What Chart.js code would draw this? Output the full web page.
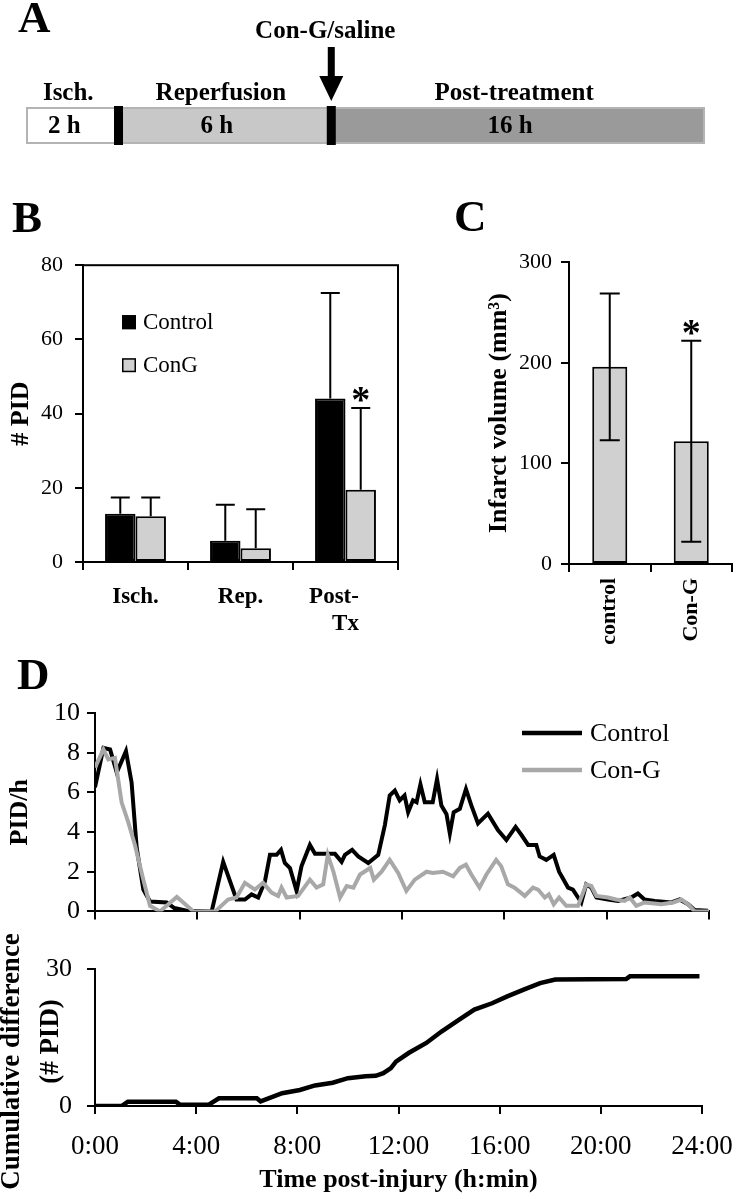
<!DOCTYPE html>
<html>
<head>
<meta charset="utf-8">
<script src="https://cdn.jsdelivr.net/npm/chart.js@4.4.1/dist/chart.umd.min.js"></script>
<style>
html, body { margin: 0; padding: 0; background: #fff; }
#page { position: relative; width: 739px; height: 1199px; overflow: hidden; background: #fff; }
canvas { position: absolute; }
.plab { position: absolute; font-family: 'Liberation Serif', 'Times New Roman', serif; font-weight: bold; font-size: 45px; line-height: 1; color: #000; }
</style>
</head>
<body>
<div id="page">
  <canvas id="cA" width="739" height="160" style="left:0px;top:0px"></canvas>
  <canvas id="cB" width="420" height="400" style="left:0px;top:240px"></canvas>
  <canvas id="cC" width="269" height="410" style="left:470px;top:240px"></canvas>
  <canvas id="cD1" width="739" height="294" style="left:0px;top:640px"></canvas>
  <canvas id="cD2" width="800" height="274" style="left:-8px;top:925px"></canvas>
  <div class="plab" style="left:18px;top:-5px">A</div>
  <div class="plab" style="left:12px;top:195px">B</div>
  <div class="plab" style="left:454px;top:194px">C</div>
  <div class="plab" style="left:17px;top:652px">D</div>
</div>
<script>
// ================= DATA =================
// Panel A: experimental timeline (segment widths as drawn in the schematic, not to scale)
const phaseNames = ['Isch.', 'Reperfusion', 'Post-treatment'];
const phaseDurations = ['2 h', '6 h', '16 h'];
const phaseDrawnWidths = [1, 2.3, 4.04];
const treatmentLabel = 'Con-G/saline';

// Panel B: number of PIDs per phase (mean, upper SD)
const pidCategories = ['Isch.', 'Rep.', ['Post-    ', 'Tx']];
const pidControl = [13.0, 5.7, 44.1];
const pidControlSD = [4.4, 9.7, 28.4];
const pidConG = [12.3, 3.7, 19.5];
const pidConGSD = [5.1, 10.5, 22.0];
const pidConGSignificant = [false, false, true];

// Panel C: infarct volume (mm3), mean +/- SD
const infarctCategories = ['control', 'Con-G'];
const infarctVolume = [196, 122];
const infarctSD = [73, 100];
const infarctSignificant = [false, true];

// Panel D (top): PID rate (PID/h) vs time post-injury (h)
const controlTimes = [0, 0.33, 0.59, 0.85, 1.21, 1.43, 1.63, 1.89, 2.15, 2.8, 3.1, 3.58, 4.56, 5.01, 5.53, 5.86, 6.12, 6.38, 6.64, 6.84, 7.1, 7.27, 7.42, 7.62, 7.88, 8.07, 8.4, 8.6, 9.11, 9.38, 9.64, 9.77, 10.05, 10.29, 10.68, 11.07, 11.33, 11.52, 11.72, 11.91, 12.1, 12.24, 12.43, 12.57, 12.72, 12.89, 13.2, 13.37, 13.54, 13.74, 13.87, 14.02, 14.26, 14.5, 14.71, 14.97, 15.36, 15.75, 16.08, 16.44, 16.67, 16.93, 17.25, 17.38, 17.64, 17.93, 18.14, 18.49, 18.68, 19.01, 19.2, 19.4, 19.6, 20.05, 20.44, 20.96, 21.22, 21.48, 21.88, 22.53, 22.85, 23.18, 23.44, 23.96];
const controlRate = [6.25, 8.24, 8.16, 7.0, 8.08, 6.5, 3.2, 1.1, 0.5, 0.45, 0.17, 0.03, 0, 2.5, 0.6, 0.6, 0.86, 0.7, 1.5, 2.85, 2.85, 3.1, 2.44, 2.19, 1.03, 2.27, 3.35, 2.9, 2.9, 2.9, 2.5, 2.85, 3.1, 2.77, 2.44, 2.85, 4.35, 5.84, 6.09, 5.6, 5.84, 5.0, 5.6, 5.5, 6.4, 5.5, 5.5, 6.67, 5.34, 4.9, 3.93, 5.0, 5.17, 6.17, 5.34, 4.43, 4.93, 4.1, 3.6, 4.26, 3.85, 3.35, 3.35, 2.77, 2.6, 2.85, 2.0, 1.2, 1.1, 0.45, 1.36, 1.2, 0.7, 0.6, 0.53, 0.7, 0.9, 0.6, 0.53, 0.45, 0.6, 0.36, 0.07, 0.03];
const congTimes = [0, 0.33, 0.52, 0.78, 1.04, 1.3, 1.56, 1.89, 2.15, 2.54, 3.2, 3.85, 4.7, 5.2, 5.53, 5.86, 6.25, 6.57, 6.9, 7.16, 7.29, 7.49, 7.94, 8.4, 8.66, 8.92, 9.1, 9.32, 9.58, 9.84, 10.1, 10.36, 10.76, 10.9, 11.2, 11.52, 11.85, 12.17, 12.5, 12.96, 13.2, 13.6, 14.0, 14.26, 14.5, 14.71, 15.03, 15.3, 15.68, 15.88, 16.14, 16.4, 16.8, 17.12, 17.32, 17.58, 17.74, 17.93, 18.14, 18.42, 18.88, 19.2, 19.4, 19.6, 20.05, 20.37, 20.7, 20.9, 21.16, 21.48, 22.14, 22.6, 22.92, 23.18, 23.44, 24.0];
const congRate = [7.25, 8.16, 7.66, 7.74, 5.5, 4.5, 3.35, 1.6, 0.28, 0, 0.73, 0, 0, 0.6, 0.7, 1.44, 1.1, 1.44, 0.95, 0.78, 1.2, 0.7, 0.78, 1.6, 1.2, 1.36, 2.85, 2.0, 0.7, 1.28, 1.2, 1.86, 2.19, 1.6, 2.0, 2.6, 1.94, 1.03, 1.6, 2.0, 1.94, 2.0, 1.77, 2.19, 2.35, 1.86, 1.2, 1.86, 2.6, 2.27, 1.36, 1.2, 0.78, 1.2, 1.1, 0.7, 0.86, 0.36, 0.7, 0.28, 0.28, 1.36, 1.28, 0.78, 0.7, 0.6, 0.53, 0.7, 0.28, 0.45, 0.36, 0.45, 0.6, 0.36, 0, 0];

// Panel D (bottom): cumulative difference (# PID) vs time (h)
const cumTimes = [0, 1.05, 1.3, 3.2, 3.35, 4.5, 4.9, 6.4, 6.55, 7.4, 8.1, 8.7, 9.4, 10.0, 10.7, 11.1, 11.4, 11.7, 11.9, 12.4, 13.1, 13.7, 14.4, 15.0, 15.7, 16.3, 17.0, 17.6, 18.2, 21.0, 21.15, 23.9];
const cumDiff = [0, 0, 0.95, 0.95, 0.3, 0.3, 1.7, 1.7, 1.0, 2.8, 3.5, 4.5, 5.1, 6.1, 6.5, 6.6, 7.2, 8.3, 9.7, 11.6, 13.8, 16.3, 18.9, 21.1, 22.5, 24.0, 25.6, 26.9, 27.7, 27.8, 28.4, 28.4];

const timeTickLabels = ['0:00', '4:00', '8:00', '12:00', '16:00', '20:00', '24:00'];
const cumTitleLines = ['Cumulative difference', '(# PID)'];

// ================= SETUP =================
const FONT = "'Liberation Serif', 'Times New Roman', serif";
Chart.defaults.font.family = FONT;
Chart.defaults.color = '#000';
Chart.defaults.animation = false;
Chart.defaults.events = [];

const axisGrid = () => ({ display: true, drawOnChartArea: false, drawTicks: true, tickLength: 8, color: '#000', lineWidth: 2 });
const axisBorder = () => ({ display: true, color: '#000', width: 2 });

function fitTo(chart, t) {
  for (let k = 0; k < 4; k++) {
    const a = chart.chartArea;
    const p = Object.assign({}, chart.config.options.layout.padding);
    p.left += t.left - a.left;
    p.top += t.top - a.top;
    p.right += a.right - t.right;
    p.bottom += a.bottom - t.bottom;
    chart.config.options.layout.padding = p;
    chart.update('none');
  }
}

// ---- plugins ----
const timelinePlugin = {
  id: 'timeline',
  afterDatasetsDraw(chart) {
    const { ctx, chartArea: a } = chart;
    const xs = chart.scales.x;
    const edges = [0];
    phaseDrawnWidths.forEach(w => edges.push(edges[edges.length - 1] + w));
    const px = edges.map(v => xs.getPixelForValue(v));
    ctx.save();
    ctx.strokeStyle = '#b4b4b4';
    ctx.lineWidth = 2;
    ctx.strokeRect(a.left + 1, a.top + 1, a.right - a.left - 2, a.bottom - a.top - 2);
    ctx.fillStyle = '#000';
    for (let i = 1; i < px.length - 1; i++) ctx.fillRect(px[i] - 4.5, a.top - 1, 9, a.bottom - a.top + 2);
    ctx.font = 'bold 25px ' + FONT;
    ctx.textAlign = 'center';
    ctx.textBaseline = 'middle';
    for (let i = 0; i < phaseNames.length; i++) {
      const cx = (px[i] + px[i + 1]) / 2;
      ctx.fillText(phaseNames[i], cx - 4, a.top - 13);
      ctx.fillText(phaseDurations[i], cx - 8, (a.top + a.bottom) / 2 + 1);
    }
    const bx = px[2];
    ctx.fillRect(bx - 3.5, a.top - 60, 7, 32);
    ctx.beginPath();
    ctx.moveTo(bx - 12, a.top - 31);
    ctx.lineTo(bx + 12, a.top - 31);
    ctx.lineTo(bx, a.top - 6);
    ctx.closePath();
    ctx.fill();
    ctx.fillText(treatmentLabel, bx - 6, a.top - 75);
    ctx.restore();
  }
};

const errorBarPlugin = {
  id: 'errorBars',
  afterDatasetsDraw(chart, args, o) {
    const { ctx } = chart;
    const ys = chart.scales.y;
    chart.data.datasets.forEach((ds, di) => {
      if (!ds.errPlus) return;
      const meta = chart.getDatasetMeta(di);
      meta.data.forEach((bar, i) => {
        const v = ds.data[i];
        const yTop = ys.getPixelForValue(v + ds.errPlus[i]);
        const yBot = ds.errMinus ? ys.getPixelForValue(v - ds.errMinus[i]) : bar.y;
        const cw = o.cap / 2;
        ctx.save();
        ctx.strokeStyle = '#000';
        ctx.lineWidth = 2;
        ctx.beginPath();
        ctx.moveTo(bar.x, yBot); ctx.lineTo(bar.x, yTop);
        ctx.moveTo(bar.x - cw, yTop); ctx.lineTo(bar.x + cw, yTop);
        if (ds.errMinus) { ctx.moveTo(bar.x - cw, yBot); ctx.lineTo(bar.x + cw, yBot); }
        ctx.stroke();
        if (ds.sig && ds.sig[i]) {
          ctx.fillStyle = '#000';
          ctx.font = 'bold 38px ' + FONT;
          ctx.textAlign = 'center';
          ctx.textBaseline = 'alphabetic';
          ctx.fillText('*', bar.x, yTop + 4);
        }
        ctx.restore();
      });
    });
  }
};

const framePlugin = {
  id: 'frame',
  afterDatasetsDraw(chart) {
    const { ctx, chartArea: a } = chart;
    ctx.save();
    ctx.strokeStyle = '#000';
    ctx.lineWidth = 2;
    ctx.strokeRect(a.left, a.top, a.right - a.left, a.bottom - a.top);
    ctx.restore();
  }
};

const boxLegendPlugin = {
  id: 'boxLegend',
  afterDraw(chart, args, o) {
    const { ctx, chartArea: a } = chart;
    ctx.save();
    chart.data.datasets.forEach((ds, i) => {
      const x = a.left + o.dx, y = a.top + o.dy + i * o.gap;
      ctx.fillStyle = ds.backgroundColor;
      ctx.fillRect(x, y, o.size, o.size);
      ctx.strokeStyle = '#000';
      ctx.lineWidth = 1.5;
      ctx.strokeRect(x + 0.75, y + 0.75, o.size - 1.5, o.size - 1.5);
      ctx.fillStyle = '#000';
      ctx.font = o.fontSize + 'px ' + FONT;
      ctx.textAlign = 'left';
      ctx.textBaseline = 'middle';
      ctx.fillText(ds.label, x + o.size + 7, y + o.size / 2 + 1);
    });
    ctx.restore();
  }
};

const lineLegendPlugin = {
  id: 'lineLegend',
  afterDraw(chart, args, o) {
    const { ctx, chartArea: a } = chart;
    ctx.save();
    chart.data.datasets.forEach((ds, i) => {
      const x = a.left + o.dx, y = a.top + o.dy + i * o.gap;
      ctx.strokeStyle = ds.borderColor;
      ctx.lineWidth = o.lineWidth;
      ctx.beginPath(); ctx.moveTo(x, y); ctx.lineTo(x + o.len, y); ctx.stroke();
      ctx.fillStyle = '#000';
      ctx.font = o.fontSize + 'px ' + FONT;
      ctx.textAlign = 'left';
      ctx.textBaseline = 'middle';
      ctx.fillText(ds.label, x + o.len + 8, y + 1);
    });
    ctx.restore();
  }
};

const sideTitlePlugin = {
  id: 'sideTitle',
  afterDraw(chart, args, o) {
    const { ctx, chartArea: a } = chart;
    ctx.save();
    ctx.fillStyle = '#000';
    ctx.font = 'bold ' + o.size + 'px ' + FONT;
    ctx.textAlign = 'center';
    ctx.textBaseline = 'middle';
    o.lines.forEach(l => {
      ctx.save();
      ctx.translate(a.left + l.dx, (a.top + a.bottom) / 2 + l.dy);
      ctx.rotate(-Math.PI / 2);
      ctx.fillText(l.text, 0, 0);
      ctx.restore();
    });
    ctx.restore();
  }
};

// ================= PANEL A =================
const chartA = new Chart(document.getElementById('cA'), {
  type: 'bar',
  data: {
    labels: ['timeline'],
    datasets: phaseNames.map((n, i) => ({
      label: n,
      data: [phaseDrawnWidths[i]],
      backgroundColor: ['#ffffff', '#c8c8c8', '#9a9a9a'][i],
      borderWidth: 0,
      barPercentage: 1,
      categoryPercentage: 1
    }))
  },
  options: {
    indexAxis: 'y',
    responsive: false,
    animation: false,
    layout: { padding: { left: 26, right: 34, top: 107, bottom: 16 } },
    plugins: { legend: { display: false }, tooltip: { enabled: false } },
    scales: {
      x: { stacked: true, display: false, min: 0, max: phaseDrawnWidths.reduce((s, v) => s + v, 0) },
      y: { stacked: true, display: false }
    }
  },
  plugins: [timelinePlugin]
});
fitTo(chartA, { left: 26, right: 705, top: 107, bottom: 144 });

// ================= PANEL B =================
const chartB = new Chart(document.getElementById('cB'), {
  type: 'bar',
  data: {
    labels: pidCategories,
    datasets: [
      { label: 'Control', data: pidControl, errPlus: pidControlSD, backgroundColor: '#000000', borderColor: '#000', borderWidth: 2, borderSkipped: false, categoryPercentage: 0.58, barPercentage: 1 },
      { label: 'ConG', data: pidConG, errPlus: pidConGSD, sig: pidConGSignificant, backgroundColor: '#d0d0d0', borderColor: '#000', borderWidth: 2, borderSkipped: false, categoryPercentage: 0.58, barPercentage: 1 }
    ]
  },
  options: {
    responsive: false,
    animation: false,
    layout: { padding: { left: 0, right: 22, top: 10, bottom: 0 } },
    plugins: {
      legend: { display: false }, tooltip: { enabled: false },
      errorBars: { cap: 19 },
      boxLegend: { dx: 39, dy: 50, gap: 43, size: 14, fontSize: 23 }
    },
    scales: {
      x: {
        grid: axisGrid(), border: axisBorder(),
        ticks: { font: { size: 23, weight: 'bold' }, padding: 13, maxRotation: 0, autoSkip: false },
        afterFit: s => { s.height = 78; }
      },
      y: {
        min: 0, max: 80,
        grid: axisGrid(), border: axisBorder(),
        ticks: { stepSize: 20, font: { size: 22 }, padding: 12 },
        title: { display: true, text: '# PID', font: { size: 26, weight: 'bold' }, padding: { top: 6, bottom: 0 } },
        afterFit: s => { s.width = 83; }
      }
    }
  },
  plugins: [framePlugin, errorBarPlugin, boxLegendPlugin]
});
fitTo(chartB, { left: 83, right: 398, top: 23, bottom: 322 });

// ================= PANEL C =================
const chartC = new Chart(document.getElementById('cC'), {
  type: 'bar',
  data: {
    labels: infarctCategories,
    datasets: [
      { label: 'Infarct volume', data: infarctVolume, errPlus: infarctSD, errMinus: infarctSD, sig: infarctSignificant, backgroundColor: '#d0d0d0', borderColor: '#000', borderWidth: 2, borderSkipped: false, categoryPercentage: 0.43, barPercentage: 1 }
    ]
  },
  options: {
    responsive: false,
    animation: false,
    layout: { padding: { left: 0, right: 7, top: 10, bottom: 0 } },
    plugins: { legend: { display: false }, tooltip: { enabled: false }, errorBars: { cap: 20 } },
    scales: {
      x: {
        grid: axisGrid(), border: axisBorder(),
        ticks: { font: { size: 22, weight: 'bold' }, padding: 6, minRotation: 90, maxRotation: 90, autoSkip: false },
        afterFit: s => { s.height = 86; }
      },
      y: {
        min: 0, max: 300,
        grid: axisGrid(), border: axisBorder(),
        ticks: { stepSize: 100, font: { size: 22 }, padding: 9 },
        title: { display: true, text: 'Infarct volume (mm³)', font: { size: 26, weight: 'bold' }, padding: { top: 14, bottom: 0 } },
        afterFit: s => { s.width = 99; }
      }
    }
  },
  plugins: [errorBarPlugin]
});
fitTo(chartC, { left: 99, right: 262, top: 23, bottom: 324 });

// ================= PANEL D (top) =================
const chartD1 = new Chart(document.getElementById('cD1'), {
  type: 'line',
  data: {
    datasets: [
      { label: 'Control', data: controlTimes.map((t, i) => ({ x: t, y: controlRate[i] })), borderColor: '#000000', borderWidth: 4, pointRadius: 0, tension: 0, order: 1 },
      { label: 'Con-G', data: congTimes.map((t, i) => ({ x: t, y: congRate[i] })), borderColor: '#a8a8a8', borderWidth: 4, pointRadius: 0, tension: 0, order: 0 }
    ]
  },
  options: {
    responsive: false,
    animation: false,
    layout: { padding: { left: 0, right: 30, top: 60, bottom: 0 } },
    plugins: {
      legend: { display: false }, tooltip: { enabled: false },
      lineLegend: { dx: 427, dy: 20, gap: 37, len: 60, fontSize: 26, lineWidth: 4.5 }
    },
    scales: {
      x: {
        type: 'linear', min: 0, max: 24,
        grid: axisGrid(), border: axisBorder(),
        ticks: { stepSize: 4, display: false },
        afterFit: s => { s.height = 20; }
      },
      y: {
        min: 0, max: 10,
        grid: axisGrid(), border: axisBorder(),
        ticks: { stepSize: 2, font: { size: 26 }, padding: 7 },
        title: { display: true, text: 'PID/h', font: { size: 26, weight: 'bold' }, padding: { top: 5, bottom: 0 } },
        afterFit: s => { s.width = 95; }
      }
    }
  },
  plugins: [lineLegendPlugin]
});
fitTo(chartD1, { left: 95, right: 709, top: 73, bottom: 274 });

// ================= PANEL D (bottom) =================
const chartD2 = new Chart(document.getElementById('cD2'), {
  type: 'line',
  data: {
    datasets: [
      { label: 'Cumulative difference', data: cumTimes.map((t, i) => ({ x: t, y: cumDiff[i] })), borderColor: '#000000', borderWidth: 4.5, pointRadius: 0, tension: 0 }
    ]
  },
  options: {
    responsive: false,
    animation: false,
    layout: { padding: { left: 0, right: 90, top: 30, bottom: 0 } },
    plugins: {
      legend: { display: false }, tooltip: { enabled: false },
      sideTitle: { size: 27, lines: [ { text: cumTitleLines[0], dx: -83, dy: 24 }, { text: cumTitleLines[1], dx: -44, dy: 4 } ] }
    },
    scales: {
      x: {
        type: 'linear', min: 0, max: 24,
        grid: axisGrid(), border: axisBorder(),
        ticks: { stepSize: 4, font: { size: 27 }, padding: 17, maxRotation: 0, autoSkip: false, callback: (v, i) => timeTickLabels[i] },
        title: { display: true, text: 'Time post-injury (h:min)', font: { size: 26, weight: 'bold' }, padding: { top: 0, bottom: 3 } },
        afterFit: s => { s.height = 93; }
      },
      y: {
        min: 0, max: 30,
        grid: axisGrid(), border: axisBorder(),
        ticks: { stepSize: 30, font: { size: 26 }, padding: 15 },
        afterFit: s => { s.width = 103; }
      }
    }
  },
  plugins: [sideTitlePlugin]
});
fitTo(chartD2, { left: 103, right: 710, top: 44, bottom: 181 });
</script>
</body>
</html>
